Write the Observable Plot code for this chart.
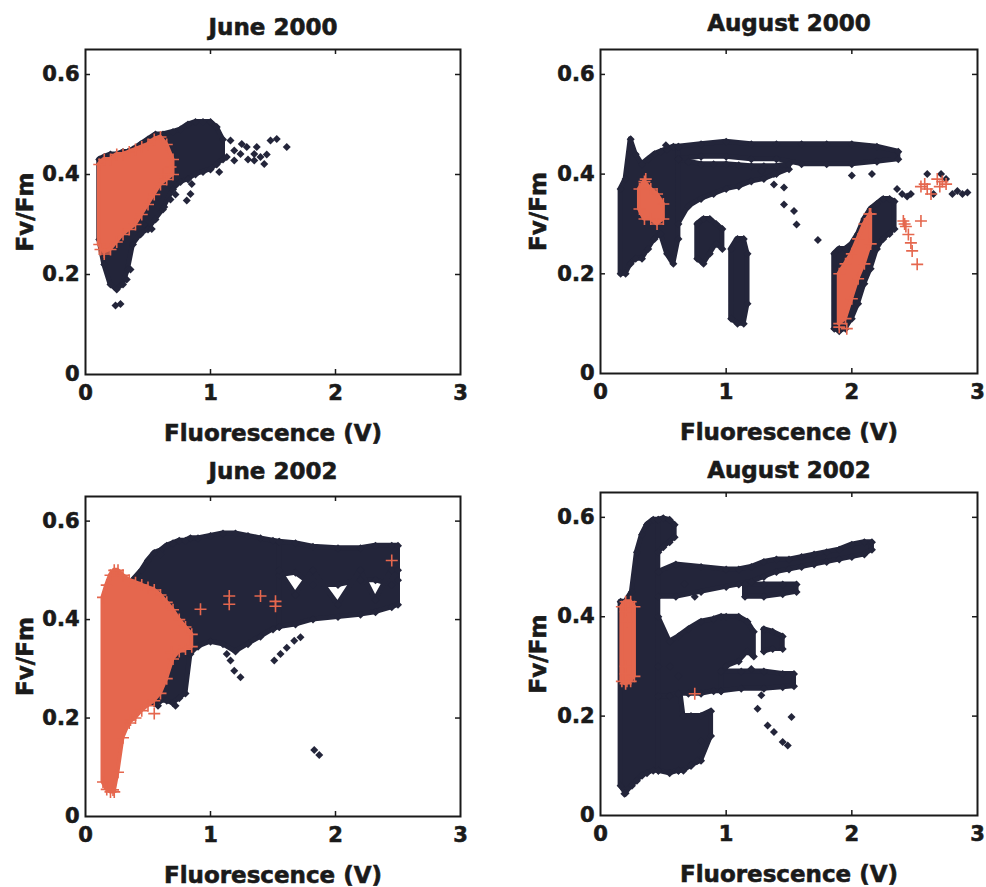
<!DOCTYPE html>
<html>
<head>
<meta charset="utf-8">
<script src="https://cdn.jsdelivr.net/npm/d3@7"></script>
<script src="https://cdn.jsdelivr.net/npm/@observablehq/plot@0.6"></script>
<style>
  html, body { margin: 0; padding: 0; background: #fff; }
  #root { position: relative; width: 986px; height: 887px; background: #fff; overflow: hidden; }
  .cell { position: absolute; }
  #root svg text { stroke: #1a1a1a; stroke-width: 0.6px; }
</style>
</head>
<body>
<div id="root"></div>
<script>
// ---------- shared labels / ticks ----------
const panelTitles = ["June 2000", "August 2000", "June 2002", "August 2002"];
const xLabel = "Fluorescence (V)";
const yLabel = "Fv/Fm";
const xTicks = [0, 1, 2, 3];
const yTicks = [0, 0.2, 0.4, 0.6];
const xInnerTicks = [1, 2];
const yInnerTicks = [0.2, 0.4, 0.6];

// ---------- June 2000 ----------
// dense clouds: [group, x, lowest Fv/Fm, highest Fv/Fm]
const jun00DarkCloud = [
  ["a",0.11,0.27,0.43],["a",0.15,0.22,0.435],["a",0.20,0.18,0.44],["a",0.25,0.17,0.44],["a",0.30,0.18,0.445],
  ["a",0.34,0.21,0.445],["a",0.38,0.26,0.45],["a",0.44,0.28,0.46],["a",0.50,0.29,0.47],["a",0.56,0.31,0.48],
  ["a",0.62,0.33,0.48],["a",0.70,0.37,0.485],["a",0.76,0.385,0.49],["a",0.82,0.39,0.50],["a",0.88,0.40,0.505],
  ["a",0.94,0.405,0.505],["a",1.00,0.41,0.505],["a",1.05,0.42,0.495],["a",1.10,0.43,0.47]
];
const jun00DarkPts = [
  [0.24,0.138],[0.28,0.141],[0.33,0.19],[0.36,0.21],[0.47,0.30],[0.53,0.291],[0.58,0.355],[0.63,0.335],
  [0.68,0.35],[0.72,0.36],[0.81,0.348],[0.84,0.361],[0.85,0.381],[1.07,0.405],[1.13,0.435],[1.16,0.468],
  [1.19,0.448],[1.19,0.428],[1.24,0.441],[1.25,0.461],[1.29,0.455],[1.30,0.43],[1.35,0.428],[1.35,0.441],
  [1.37,0.455],[1.40,0.435],[1.43,0.421],[1.45,0.44],[1.48,0.468],[1.53,0.471],[1.61,0.455]
];
const jun00RedCloud = [
  ["a",0.11,0.26,0.42],["a",0.15,0.245,0.43],["a",0.20,0.25,0.43],["a",0.25,0.265,0.44],["a",0.30,0.28,0.44],
  ["a",0.35,0.29,0.445],["a",0.40,0.30,0.45],["a",0.45,0.32,0.455],["a",0.50,0.34,0.46],["a",0.55,0.36,0.47],
  ["a",0.60,0.38,0.475],["a",0.65,0.39,0.46],["a",0.70,0.40,0.43]
];
const jun00RedPts = [[0.15,0.241],[0.12,0.25],[0.68,0.415],[0.62,0.40]];

// ---------- August 2000 ----------
const aug00DarkCloud = [
  ["a",0.16,0.20,0.37],["a",0.20,0.20,0.39],["a",0.24,0.22,0.47],["a",0.28,0.23,0.44],["a",0.33,0.23,0.42],
  ["a",0.38,0.25,0.43],["a",0.43,0.27,0.44],["a",0.48,0.28,0.445],["a",0.53,0.24,0.45],["a",0.58,0.22,0.455],
  ["a",0.62,0.27,0.455],
  ["b",0.62,0.30,0.43],["b",0.70,0.335,0.425],["b",0.80,0.35,0.42],["b",0.90,0.36,0.42],["b",1.00,0.37,0.42],
  ["b",1.10,0.375,0.418],["b",1.20,0.385,0.416],["b",1.30,0.39,0.416],["b",1.40,0.40,0.416],["b",1.50,0.41,0.42],
  ["c",0.62,0.43,0.455],["c",0.80,0.435,0.46],["c",1.00,0.435,0.465],["c",1.20,0.43,0.46],["c",1.40,0.43,0.46],
  ["c",1.60,0.42,0.46],["c",1.80,0.42,0.46],["c",2.00,0.42,0.46],["c",2.20,0.425,0.455],["c",2.37,0.43,0.445],
  ["d",0.77,0.23,0.30],["d",0.82,0.22,0.31],["d",0.87,0.24,0.31],["d",0.92,0.26,0.30],["d",0.97,0.25,0.29],
  ["e",1.04,0.11,0.25],["e",1.09,0.10,0.27],["e",1.14,0.10,0.27],["e",1.17,0.14,0.24],
  ["f",1.86,0.09,0.24],["f",1.90,0.085,0.25],["f",1.95,0.09,0.25],["f",2.00,0.11,0.26],["f",2.05,0.14,0.28],
  ["f",2.10,0.18,0.31],["f",2.15,0.21,0.33],["f",2.20,0.25,0.34],["f",2.25,0.27,0.35],["f",2.30,0.28,0.35],["f",2.34,0.29,0.345]
];
const aug00DarkPts = [
  [0.52,0.458],[1.28,0.406],[1.38,0.40],[1.38,0.379],[1.46,0.373],[1.46,0.339],[1.54,0.326],[1.56,0.299],
  [1.73,0.268],[2.00,0.397],[2.16,0.40],[2.36,0.37],[2.40,0.36],[2.44,0.355],[2.47,0.36],[2.60,0.40],
  [2.65,0.36],[2.71,0.40],[2.75,0.39],[2.80,0.36],[2.84,0.366],[2.88,0.36],[2.92,0.363]
];
const aug00RedCloud = [
  ["a",0.31,0.33,0.37],["a",0.35,0.31,0.385],["a",0.40,0.31,0.37],["a",0.45,0.30,0.36],["a",0.50,0.31,0.34],
  ["b",1.90,0.10,0.20],["b",1.95,0.11,0.22],["b",2.00,0.15,0.24],["b",2.05,0.19,0.27],["b",2.10,0.22,0.30],
  ["b",2.15,0.26,0.32]
];
const aug00RedPts = [
  [0.36,0.39],[1.90,0.093],[1.96,0.09],[2.14,0.32],[2.41,0.306],[2.42,0.30],[2.43,0.295],[2.45,0.279],
  [2.47,0.262],[2.48,0.246],[2.52,0.219],[2.55,0.306],[2.55,0.375],[2.58,0.38],[2.60,0.37],[2.63,0.36],
  [2.68,0.39],[2.70,0.375],[2.72,0.385],[2.75,0.38]
];

// ---------- June 2002 ----------
const jun02DarkCloud = [
  ["m",0.38,0.44,0.48],["m",0.45,0.23,0.50],["m",0.50,0.23,0.52],["m",0.55,0.23,0.535],["m",0.60,0.235,0.54],
  ["m",0.65,0.235,0.55],["m",0.70,0.23,0.555],["m",0.75,0.24,0.56],["m",0.80,0.25,0.56],["m",0.84,0.33,0.565],
  ["m",0.90,0.345,0.565],["m",1.00,0.355,0.57],["m",1.10,0.35,0.575],["m",1.20,0.335,0.575],["m",1.30,0.35,0.57],
  ["m",1.40,0.365,0.565],["m",1.50,0.38,0.56],["m",1.55,0.385,0.558],
  ["u",1.55,0.49,0.558],["u",1.68,0.495,0.555],["u",1.82,0.47,0.548],["u",2.02,0.47,0.545],["u",2.20,0.48,0.545],
  ["u",2.32,0.48,0.55],["u",2.45,0.47,0.55],["u",2.50,0.48,0.55],
  ["l",1.55,0.385,0.50],["l",1.68,0.39,0.45],["l",1.82,0.40,0.50],["l",2.02,0.405,0.43],["l",2.20,0.41,0.50],
  ["l",2.32,0.415,0.44],["l",2.45,0.425,0.50],["l",2.50,0.43,0.50]
];
const jun02DarkPts = [
  [1.13,0.33],[1.16,0.317],[1.19,0.296],[1.24,0.283],[1.51,0.317],[1.56,0.33],[1.61,0.343],[1.67,0.357],
  [1.72,0.364],[1.83,0.135],[1.87,0.125],[0.58,0.225],[0.72,0.225],[0.60,0.532]
];
const jun02RedCloud = [
  ["a",0.14,0.07,0.445],["a",0.17,0.055,0.47],["a",0.20,0.05,0.49],["a",0.23,0.05,0.50],["a",0.26,0.09,0.50],
  ["a",0.30,0.16,0.49],["a",0.35,0.19,0.48],["a",0.40,0.20,0.475],["a",0.45,0.215,0.47],["a",0.50,0.225,0.465],
  ["a",0.55,0.235,0.46],["a",0.60,0.25,0.45],["a",0.65,0.28,0.435],["a",0.70,0.32,0.42],["a",0.75,0.335,0.40],
  ["a",0.80,0.34,0.385],["a",0.85,0.345,0.37]
];
const jun02RedPts = [
  [0.92,0.421],[1.15,0.448],[1.15,0.431],[1.40,0.448],[1.52,0.437],[1.52,0.427],[2.45,0.52],[0.69,0.333],
  [0.22,0.054],[0.55,0.209],[0.36,0.196]
];

// ---------- August 2002 ----------
const aug02DarkCloud = [
  ["a",0.16,0.06,0.43],["a",0.20,0.045,0.43],["a",0.25,0.06,0.45],["a",0.29,0.07,0.53],["a",0.33,0.08,0.565],
  ["a",0.37,0.085,0.585],["a",0.42,0.09,0.595],["a",0.46,0.09,0.595],
  ["h",0.46,0.53,0.595],["h",0.50,0.54,0.598],["h",0.55,0.55,0.595],["h",0.59,0.56,0.585],
  ["r",0.46,0.44,0.49],["r",0.60,0.44,0.505],["r",0.80,0.45,0.50],["r",1.00,0.46,0.495],["r",1.10,0.465,0.495],
  ["r",1.20,0.47,0.50],["r",1.30,0.48,0.51],["r",1.40,0.49,0.515],["r",1.50,0.495,0.515],["r",1.60,0.50,0.52],
  ["r",1.70,0.505,0.525],["r",1.80,0.51,0.53],["r",1.90,0.515,0.535],["r",2.00,0.52,0.545],["r",2.10,0.525,0.55],
  ["r",2.16,0.535,0.55],
  ["s",1.15,0.44,0.465],["s",1.30,0.44,0.465],["s",1.45,0.445,0.465],["s",1.56,0.45,0.465],
  ["lo",0.46,0.09,0.30],["lo",0.55,0.085,0.30],["lo",0.62,0.09,0.28],["lo",0.66,0.09,0.20],["lo",0.72,0.10,0.20],
  ["lo",0.80,0.11,0.20],["lo",0.88,0.16,0.21],
  ["m",0.46,0.24,0.40],["m",0.55,0.24,0.35],["m",0.62,0.245,0.36],["m",0.70,0.245,0.375],["m",0.80,0.245,0.39],
  ["m",0.90,0.25,0.395],["m",0.96,0.25,0.40],["m",1.00,0.30,0.40],["m",1.10,0.31,0.40],["m",1.17,0.33,0.39],["m",1.22,0.32,0.37],
  ["t",0.96,0.25,0.29],["t",1.12,0.255,0.29],["t",1.30,0.255,0.29],["t",1.45,0.258,0.285],["t",1.54,0.26,0.285],
  ["v",1.30,0.33,0.375],["v",1.37,0.335,0.37],["v",1.45,0.335,0.36]
];
const aug02DarkPts = [
  [0.67,0.466],[0.75,0.44],[1.20,0.295],[1.25,0.215],[1.28,0.242],[1.33,0.181],[1.38,0.168],[1.45,0.148],
  [1.49,0.141],[1.52,0.198],[0.19,0.044],[0.62,0.09],[0.72,0.10],[0.77,0.11],[0.80,0.15]
];
const aug02RedCloud = [
  ["a",0.17,0.27,0.42],["a",0.20,0.265,0.43],["a",0.24,0.27,0.43],["a",0.27,0.28,0.42]
];
const aug02RedPts = [
  [0.20,0.42],[0.20,0.41],[0.21,0.39],[0.20,0.30],[0.20,0.285],[0.21,0.27],[0.75,0.245]
];

// ---------- drawing ----------
const DARK = "#23253a";
const RED = "#e5674e";

const diamondSymbol = {
  draw(ctx, size) {
    const r = Math.sqrt(size / Math.PI);
    ctx.moveTo(0, -r); ctx.lineTo(r, 0); ctx.lineTo(0, r); ctx.lineTo(-r, 0); ctx.closePath();
  }
};
const plusSymbol = {
  draw(ctx, size) {
    const r = Math.sqrt(size / Math.PI);
    ctx.moveTo(-r, 0); ctx.lineTo(r, 0); ctx.moveTo(0, -r); ctx.lineTo(0, r);
  }
};

const toBands = rows => rows.map(([g, x, lo, hi]) => ({g, x, lo, hi}));
const toPts = rows => rows.map(([x, y]) => ({x, y}));

const layouts = [
  {left: 0,   top: 0,   width: 493, height: 443, mL: 85,  mR: 33, mT: 49, mB: 69, titleDy: -22, yDx: -60},
  {left: 493, top: 0,   width: 493, height: 443, mL: 107, mR: 9,  mT: 49, mB: 70, titleDy: -26, yDx: -62},
  {left: 0,   top: 443, width: 493, height: 444, mL: 85,  mR: 33, mT: 53, mB: 71, titleDy: -25, yDx: -60},
  {left: 493, top: 443, width: 493, height: 444, mL: 107, mR: 9,  mT: 49, mB: 72, titleDy: -22, yDx: -62}
];

const panelData = [
  {dark: jun00DarkCloud, darkPts: jun00DarkPts, red: jun00RedCloud, redPts: jun00RedPts},
  {dark: aug00DarkCloud, darkPts: aug00DarkPts, red: aug00RedCloud, redPts: aug00RedPts},
  {dark: jun02DarkCloud, darkPts: jun02DarkPts, red: jun02RedCloud, redPts: jun02RedPts},
  {dark: aug02DarkCloud, darkPts: aug02DarkPts, red: aug02RedCloud, redPts: aug02RedPts}
];

const root = document.getElementById("root");

panelData.forEach((pd, i) => {
  const L = layouts[i];
  const innerW = L.width - L.mL - L.mR;
  const innerH = L.height - L.mT - L.mB;
  const dark = toBands(pd.dark), red = toBands(pd.red);
  const darkPts = toPts(pd.darkPts), redPts = toPts(pd.redPts);

  const chart = Plot.plot({
    width: L.width,
    height: L.height,
    marginLeft: L.mL, marginRight: L.mR, marginTop: L.mT, marginBottom: L.mB,
    style: {fontFamily: "'DejaVu Sans', sans-serif", fontWeight: "bold", color: "#1a1a1a", background: "transparent", overflow: "visible"},
    x: {domain: [0, 3], axis: null},
    y: {domain: [0, 0.65], axis: null},
    marks: [
      Plot.areaY(dark, {x: "x", y1: "lo", y2: "hi", z: "g", fill: DARK, stroke: DARK, strokeWidth: 5, strokeLinejoin: "round"}),
      Plot.dot(dark, {x: "x", y: "lo", symbol: diamondSymbol, r: 4, fill: DARK, stroke: "none"}),
      Plot.dot(dark, {x: "x", y: "hi", symbol: diamondSymbol, r: 4, fill: DARK, stroke: "none"}),
      Plot.dot(darkPts, {x: "x", y: "y", symbol: diamondSymbol, r: 4, fill: DARK, stroke: "none"}),
      Plot.areaY(red, {x: "x", y1: "lo", y2: "hi", z: "g", fill: RED, stroke: RED, strokeWidth: 4, strokeLinejoin: "round"}),
      Plot.dot(red, {x: "x", y: "lo", symbol: plusSymbol, r: 6, fill: "none", stroke: RED, strokeWidth: 1.6}),
      Plot.dot(red, {x: "x", y: "hi", symbol: plusSymbol, r: 6, fill: "none", stroke: RED, strokeWidth: 1.6}),
      Plot.dot(redPts, {x: "x", y: "y", symbol: plusSymbol, r: 6, fill: "none", stroke: RED, strokeWidth: 1.6}),
      Plot.frame({stroke: "#1a1a1a", strokeWidth: 2}),
      Plot.tickX(xInnerTicks, {x: d => d, insetTop: innerH - 5, stroke: "#1a1a1a", strokeWidth: 1.5}),
      Plot.tickX(xInnerTicks, {x: d => d, insetBottom: innerH - 5, stroke: "#1a1a1a", strokeWidth: 1.5}),
      Plot.tickY(yInnerTicks, {y: d => d, insetRight: innerW - 5, stroke: "#1a1a1a", strokeWidth: 1.5}),
      Plot.tickY(yInnerTicks, {y: d => d, insetLeft: innerW - 5, stroke: "#1a1a1a", strokeWidth: 1.5}),
      Plot.axisX(xTicks, {anchor: "bottom", tickSize: 0, tickPadding: 11, fontSize: 21, label: null, tickFormat: d => String(d)}),
      Plot.axisY(yTicks, {anchor: "left", tickSize: 0, tickPadding: 6, fontSize: 21, label: null, tickFormat: d => d === 0 ? "0" : d.toFixed(1)}),
      Plot.text([panelTitles[i]], {frameAnchor: "top", lineAnchor: "middle", textAnchor: "middle", dy: L.titleDy, fontSize: 23, fill: "#1a1a1a"}),
      Plot.text([xLabel], {frameAnchor: "bottom", lineAnchor: "middle", textAnchor: "middle", dy: 59, fontSize: 23, fill: "#1a1a1a"}),
      Plot.text([yLabel], {frameAnchor: "left", lineAnchor: "middle", textAnchor: "middle", dx: L.yDx, rotate: -90, fontSize: 23, fill: "#1a1a1a"})
    ]
  });
  const cell = document.createElement("div");
  cell.className = "cell";
  cell.style.left = L.left + "px";
  cell.style.top = L.top + "px";
  cell.appendChild(chart);
  root.appendChild(cell);
});
</script>
</body>
</html>
